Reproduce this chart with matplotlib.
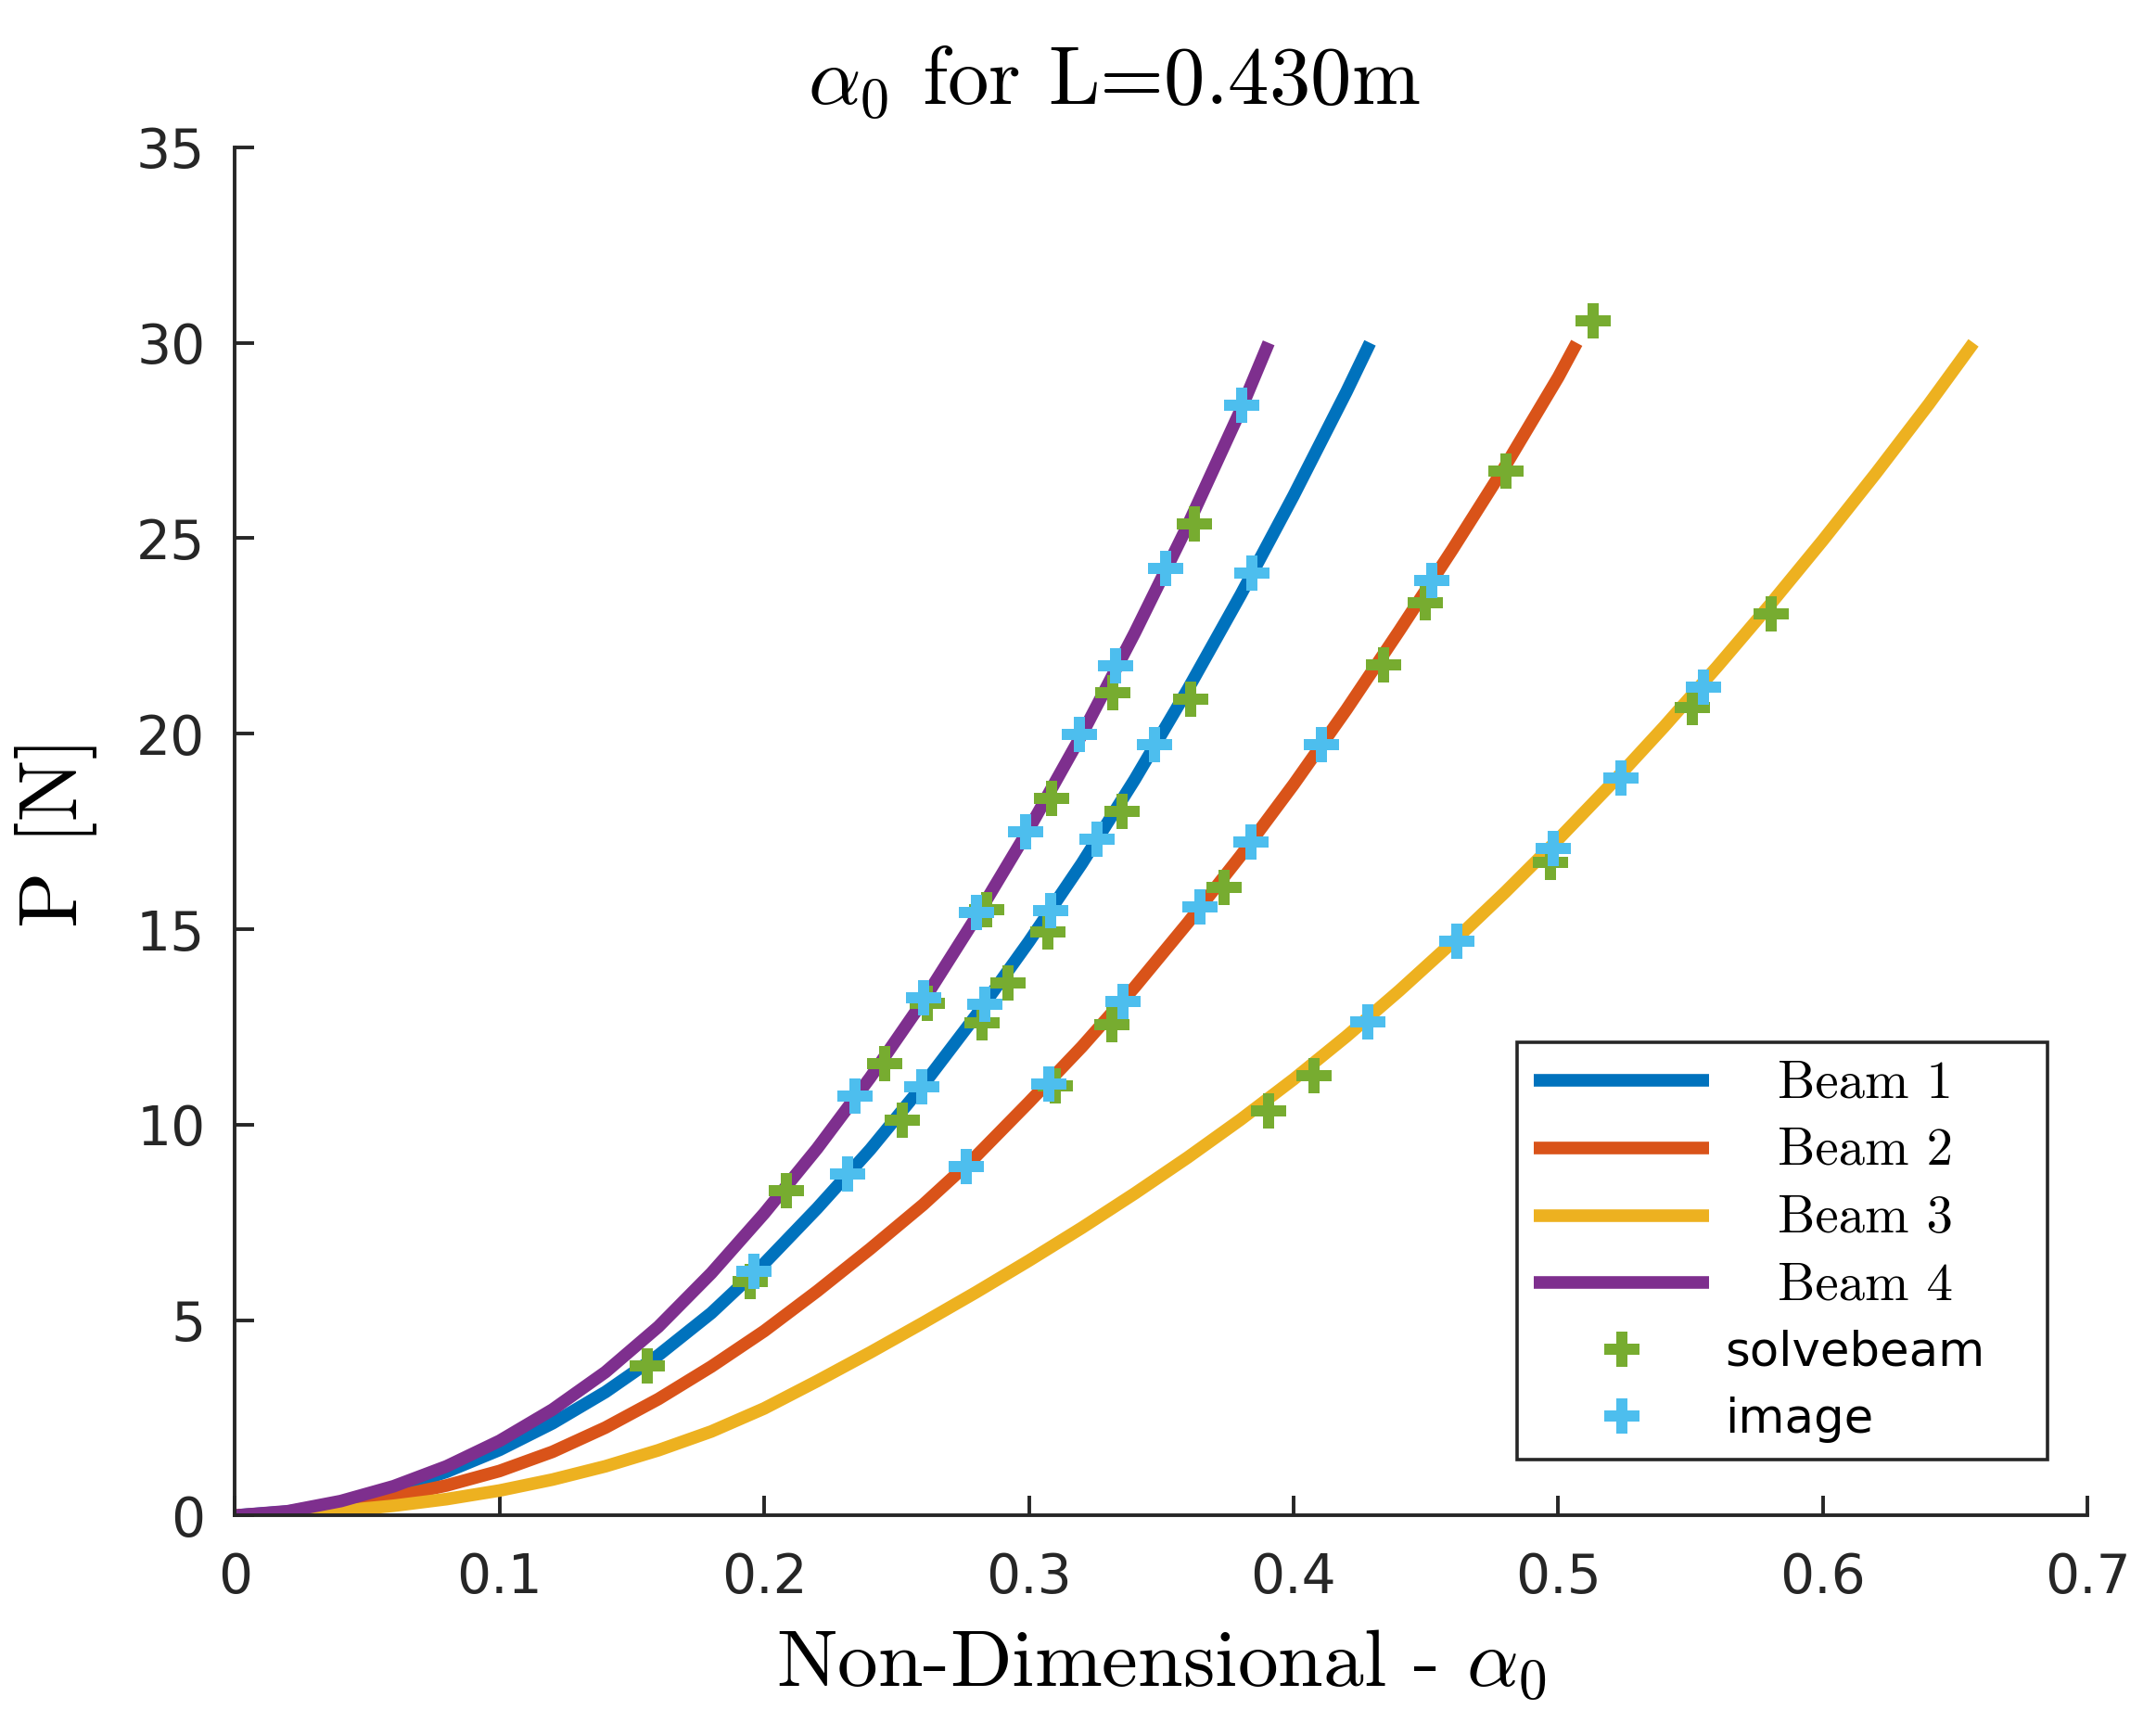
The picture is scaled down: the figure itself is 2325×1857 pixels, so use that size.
import matplotlib
matplotlib.use("Agg")
import matplotlib.pyplot as plt

plt.rcParams['mathtext.fontset'] = 'cm'

# ---------------- data ----------------
# model curves (P vs alpha_0)
beam1_x = [0, 0.02, 0.04, 0.06, 0.08, 0.10, 0.12, 0.14, 0.16, 0.18, 0.20, 0.22,
           0.24, 0.26, 0.28, 0.30, 0.32, 0.34, 0.36, 0.38, 0.40, 0.42, 0.4289]
beam1_y = [0, 0.10, 0.33, 0.67, 1.12, 1.68, 2.36, 3.16, 4.10, 5.18, 6.45, 7.86,
           9.36, 11.01, 12.79, 14.68, 16.68, 18.83, 21.13, 23.55, 26.09, 28.75, 30.0]

beam2_x = [0, 0.02, 0.04, 0.06, 0.08, 0.10, 0.12, 0.14, 0.16, 0.18, 0.20, 0.22, 0.24,
           0.26, 0.28, 0.30, 0.32, 0.34, 0.36, 0.38, 0.40, 0.42, 0.44, 0.46, 0.48,
           0.50, 0.507]
beam2_y = [0, 0.07, 0.24, 0.48, 0.77, 1.14, 1.63, 2.25, 2.98, 3.81, 4.72, 5.74, 6.82,
           7.95, 9.19, 10.57, 11.99, 13.52, 15.16, 16.88, 18.70, 20.62, 22.64, 24.71,
           26.85, 29.12, 30.0]

beam3_x = [0, 0.02, 0.04, 0.06, 0.08, 0.10, 0.12, 0.14, 0.16, 0.18, 0.20, 0.22, 0.24,
           0.26, 0.28, 0.30, 0.32, 0.34, 0.36, 0.38, 0.40, 0.42, 0.44, 0.46, 0.48,
           0.50, 0.52, 0.54, 0.56, 0.58, 0.60, 0.62, 0.64, 0.6569]
beam3_y = [0, 0.03, 0.12, 0.25, 0.42, 0.64, 0.92, 1.26, 1.67, 2.15, 2.74, 3.44, 4.17,
           4.93, 5.71, 6.52, 7.36, 8.24, 9.16, 10.13, 11.16, 12.26, 13.43, 14.66, 15.95,
           17.30, 18.71, 20.18, 21.71, 23.30, 24.95, 26.66, 28.43, 30.0]

beam4_x = [0, 0.02, 0.04, 0.06, 0.08, 0.10, 0.12, 0.14, 0.16, 0.18, 0.20, 0.22,
           0.24, 0.26, 0.28, 0.30, 0.32, 0.34, 0.36, 0.38, 0.3906]
beam4_y = [0, 0.11, 0.37, 0.75, 1.26, 1.91, 2.71, 3.67, 4.83, 6.20, 7.73, 9.39,
           11.20, 13.16, 15.30, 17.56, 19.98, 22.58, 25.33, 28.28, 30.0]

# solvebeam points
solve_x_b1 = [0.1557, 0.1946, 0.2521, 0.2822, 0.2921, 0.3071, 0.3353, 0.3610]
solve_y_b1 = [3.83, 5.98, 10.11, 12.61, 13.63, 14.92, 18.02, 20.89]
solve_x_b2 = [0.3099, 0.3312, 0.3737, 0.4339, 0.4498, 0.4803, 0.5131]
solve_y_b2 = [11.00, 12.56, 16.08, 21.76, 23.35, 26.73, 30.57]
solve_x_b3 = [0.3904, 0.4078, 0.4972, 0.5506, 0.5805]
solve_y_b3 = [10.36, 11.26, 16.71, 20.66, 23.07]
solve_x_b4 = [0.2083, 0.2456, 0.2615, 0.2841, 0.3087, 0.3317, 0.3626]
solve_y_b4 = [8.30, 11.55, 13.11, 15.51, 18.34, 21.04, 25.37]

# image points
image_x_b1 = [0.1960, 0.2315, 0.2594, 0.2833, 0.3082, 0.3258, 0.3476, 0.3844]
image_y_b1 = [6.25, 8.73, 10.96, 13.08, 15.48, 17.30, 19.72, 24.10]
image_x_b2 = [0.2764, 0.3074, 0.3355, 0.3648, 0.3840, 0.4106, 0.4523]
image_y_b2 = [8.92, 11.05, 13.16, 15.56, 17.24, 19.72, 23.93]
image_x_b3 = [0.4282, 0.4618, 0.4981, 0.5237, 0.5548]
image_y_b3 = [12.62, 14.69, 17.07, 18.87, 21.19]
image_x_b4 = [0.2342, 0.2601, 0.2801, 0.2987, 0.3192, 0.3328, 0.3516, 0.3805]
image_y_b4 = [10.74, 13.24, 15.42, 17.49, 19.98, 21.74, 24.24, 28.40]

xticks = [0, 0.1, 0.2, 0.3, 0.4, 0.5, 0.6, 0.7]
xtick_labels = ['0', '0.1', '0.2', '0.3', '0.4', '0.5', '0.6', '0.7']
yticks = [0, 5, 10, 15, 20, 25, 30, 35]
ytick_labels = ['0', '5', '10', '15', '20', '25', '30', '35']

beam_labels = ['Beam 1', 'Beam 2', 'Beam 3', 'Beam 4']
beam_colors = ['#0072BD', '#D95319', '#EDB120', '#7E2F8E']
solve_color = '#77AC30'
image_color = '#4DBEEE'
axis_color = '#262626'

# ---------------- figure ----------------
fig = plt.figure(figsize=(11.625, 9.285), dpi=200)
ax = fig.add_axes([0.10895, 0.1199, 0.8593, 0.7945])

curves = [(beam1_x, beam1_y), (beam2_x, beam2_y), (beam3_x, beam3_y), (beam4_x, beam4_y)]
for (cx, cy), lab, col in zip(curves, beam_labels, beam_colors):
    ax.plot(cx, cy, color=col, lw=4.9, solid_capstyle='butt',
            solid_joinstyle='round', label='   ' + lab)

sx = solve_x_b1 + solve_x_b2 + solve_x_b3 + solve_x_b4
sy = solve_y_b1 + solve_y_b2 + solve_y_b3 + solve_y_b4
ix = image_x_b1 + image_x_b2 + image_x_b3 + image_x_b4
iy = image_y_b1 + image_y_b2 + image_y_b3 + image_y_b4
ax.plot(sx, sy, linestyle='none', marker='P', ms=14, mew=0, color=solve_color,
        label='solvebeam')
ax.plot(ix, iy, linestyle='none', marker='P', ms=14, mew=0, color=image_color,
        label='image')

ax.set_xlim(0, 0.7)
ax.set_ylim(0, 35)
ax.set_xticks(xticks)
ax.set_xticklabels(xtick_labels)
ax.set_yticks(yticks)
ax.set_yticklabels(ytick_labels)

for s in ['top', 'right']:
    ax.spines[s].set_visible(False)
for s in ['left', 'bottom']:
    ax.spines[s].set_color(axis_color)
    ax.spines[s].set_linewidth(1.4)

ax.tick_params(axis='both', direction='in', length=7.5, width=1.4,
               color=axis_color, labelcolor=axis_color, labelsize=21)
ax.tick_params(axis='x', pad=14)
ax.tick_params(axis='y', pad=11.5)

ax.set_title(r'$\alpha_0$ for L=0.430m', fontsize=32, family='cmr10',
             x=0.4746, pad=17)
ax.set_xlabel(r'Non-Dimensional - $\alpha_0$', fontsize=31.5, family='cmr10',
              labelpad=9)
ax.set_ylabel('P [N]', fontsize=32, family='cmr10', labelpad=15)

leg = ax.legend(loc='lower left', bbox_to_anchor=(0.692, 0.0409, 0.2863, 0.3),
                mode='expand', borderaxespad=0, fontsize=18.5,
                handlelength=3.68, handletextpad=0.32, labelspacing=0.42,
                borderpad=0.36, fancybox=False, framealpha=1,
                edgecolor=axis_color)
leg.get_frame().set_linewidth(1.3)
for t in leg.get_texts()[:4]:
    t.set_family('cmr10')
    t.set_fontsize(20.5)

fig.savefig('out.png', dpi=200)
